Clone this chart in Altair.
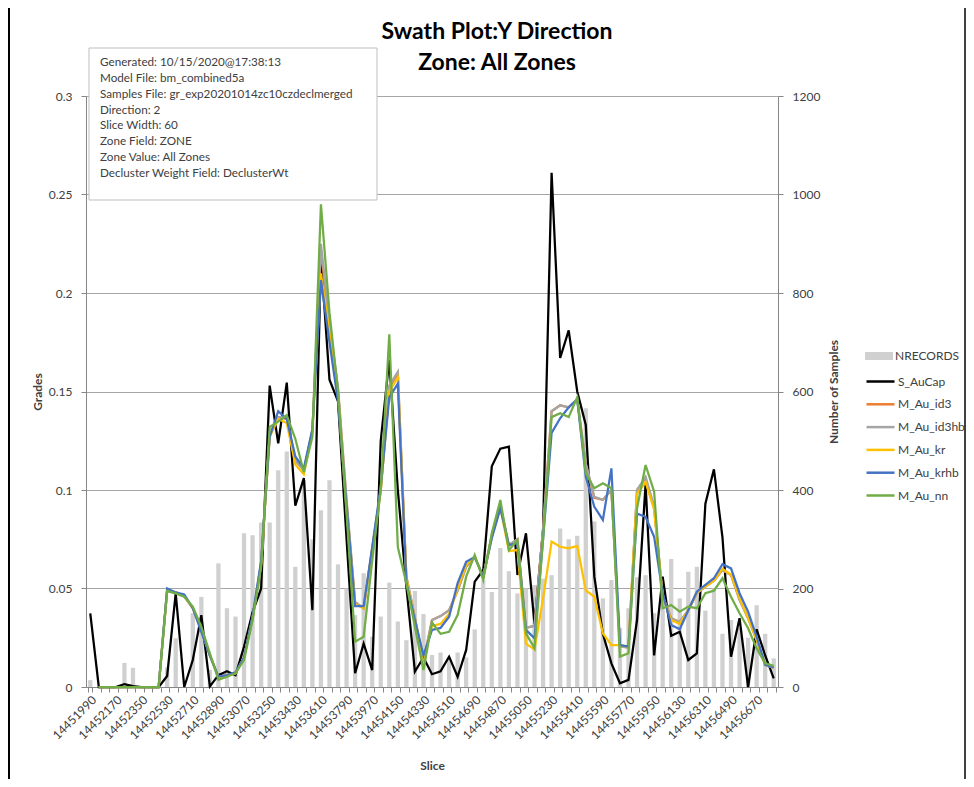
import altair as alt
import pandas as pd

slices = [
    14451990, 14452050, 14452110, 14452170, 14452230, 14452290, 14452350, 14452410, 14452470, 14452530,
    14452590, 14452650, 14452710, 14452770, 14452830, 14452890, 14452950, 14453010, 14453070, 14453130,
    14453190, 14453250, 14453310, 14453370, 14453430, 14453490, 14453550, 14453610, 14453670, 14453730,
    14453790, 14453850, 14453910, 14453970, 14454030, 14454090, 14454150, 14454210, 14454270, 14454330,
    14454390, 14454450, 14454510, 14454570, 14454630, 14454690, 14454750, 14454810, 14454870, 14454930,
    14454990, 14455050, 14455110, 14455170, 14455230, 14455290, 14455350, 14455410, 14455470, 14455530,
    14455590, 14455650, 14455710, 14455770, 14455830, 14455890, 14455950, 14456010, 14456070, 14456130,
    14456190, 14456250, 14456310, 14456370, 14456430, 14456490, 14456550, 14456610, 14456670, 14456730,
    14456790,
]

nrecords = [
    14, 0, 0, 0, 49, 39, 0, 0, 0, 40,
    99, 0, 150, 183, 35, 251, 160, 143, 312, 308,
    334, 334, 440, 478, 244, 420, 300, 359, 420, 249,
    200, 146, 231, 102, 143, 212, 133, 95, 195, 148,
    65, 70, 60, 70, 60, 117, 217, 193, 282, 235,
    190, 200, 207, 220, 227, 322, 300, 307, 566, 336,
    180, 217, 120, 160, 223, 227, 150, 200, 260, 180,
    234, 244, 155, 200, 108, 136, 120, 100, 166, 108,
    58,
]

s_aucap = [
    0.0374, 0, 0, 0, 0.0015, 0.0005, 0, 0, 0, 0.0056,
    0.0475, 0, 0.0137, 0.0365, 0.0003, 0.006, 0.008, 0.006, 0.0205, 0.038,
    0.050, 0.153, 0.1237, 0.1545, 0.092, 0.106, 0.039, 0.218, 0.156, 0.145,
    0.075, 0.007, 0.022, 0.0086, 0.125, 0.166, 0.10, 0.051, 0.0078, 0.015,
    0.0065, 0.008, 0.0154, 0.0052, 0.0188, 0.0535, 0.0594, 0.112, 0.121, 0.122,
    0.0569, 0.078, 0.032, 0.08, 0.261, 0.167, 0.181, 0.15, 0.133, 0.056,
    0.027, 0.012, 0.0019, 0.0036, 0.034, 0.103, 0.016, 0.056, 0.026, 0.028,
    0.0137, 0.017, 0.093, 0.1105, 0.076, 0.0154, 0.0349, 0.0, 0.0293, 0.016,
    0.0044,
]

m_au_id3 = [
    None, 0, 0, 0, 0, 0, 0, 0, 0, 0.049,
    0.048, 0.046, 0.040, 0.029, 0.016, 0.005, 0.006, 0.007, 0.015, 0.035,
    0.063, 0.128, 0.137, 0.136, 0.115, 0.110, 0.130, 0.222, 0.183, 0.151,
    0.094, 0.043, 0.040, 0.070, 0.10, 0.152, 0.159, 0.056, 0.035, 0.013,
    0.034, 0.036, 0.039, 0.049, 0.061, 0.066, 0.056, 0.077, 0.092, 0.072,
    0.075, 0.030, 0.031, 0.08, 0.140, 0.143, 0.142, 0.146, 0.113, 0.096,
    0.095, 0.10, 0.0205, 0.020, 0.1, 0.106, 0.091, 0.046, 0.0349, 0.033,
    0.039, 0.0476, 0.051, 0.054, 0.0594, 0.0569, 0.0442, 0.0349, 0.0239, 0.0112,
    0.010,
]

m_au_id3hb = [
    None, 0, 0, 0, 0, 0, 0, 0, 0, 0.049,
    0.048, 0.046, 0.040, 0.029, 0.016, 0.005, 0.006, 0.007, 0.015, 0.035,
    0.063, 0.128, 0.137, 0.137, 0.115, 0.110, 0.130, 0.225, 0.185, 0.152,
    0.095, 0.043, 0.040, 0.070, 0.10, 0.153, 0.160, 0.056, 0.035, 0.013,
    0.034, 0.036, 0.039, 0.049, 0.061, 0.066, 0.056, 0.077, 0.092, 0.072,
    0.075, 0.030, 0.031, 0.08, 0.140, 0.143, 0.142, 0.146, 0.1135, 0.0966,
    0.095, 0.10, 0.0205, 0.020, 0.1, 0.1068, 0.0915, 0.046, 0.0349, 0.033,
    0.039, 0.0476, 0.051, 0.054, 0.0594, 0.0569, 0.0442, 0.0349, 0.0239, 0.0112,
    0.010,
]

m_au_kr = [
    None, 0, 0, 0, 0, 0, 0, 0, 0, 0.049,
    0.048, 0.046, 0.040, 0.029, 0.016, 0.005, 0.006, 0.007, 0.015, 0.035,
    0.062, 0.127, 0.136, 0.134, 0.113, 0.108, 0.130, 0.21, 0.18, 0.148,
    0.09, 0.042, 0.04, 0.07, 0.10, 0.15, 0.157, 0.055, 0.034, 0.014,
    0.031, 0.032, 0.037, 0.05, 0.062, 0.066, 0.056, 0.076, 0.091, 0.069,
    0.0695, 0.022, 0.019, 0.045, 0.0738, 0.0712, 0.0704, 0.0716, 0.049, 0.0458,
    0.0273, 0.0213, 0.0213, 0.0205, 0.098, 0.104, 0.09, 0.046, 0.034, 0.032,
    0.039, 0.048, 0.051, 0.054, 0.06, 0.057, 0.045, 0.035, 0.024, 0.0112,
    0.010,
]

m_au_krhb = [
    None, 0, 0, 0, 0, 0, 0, 0, 0, 0.050,
    0.048, 0.047, 0.040, 0.028, 0.016, 0.0053, 0.006, 0.0075, 0.015, 0.036,
    0.064, 0.127, 0.140, 0.136, 0.117, 0.111, 0.131, 0.2066, 0.175, 0.145,
    0.092, 0.041, 0.041, 0.071, 0.1017, 0.147, 0.154, 0.053, 0.034, 0.016,
    0.029, 0.030, 0.0357, 0.0528, 0.0636, 0.066, 0.056, 0.0755, 0.0907, 0.072,
    0.073, 0.029, 0.0247, 0.075, 0.129, 0.1364, 0.142, 0.146, 0.1068, 0.0915,
    0.0848, 0.111, 0.0213, 0.0205, 0.088, 0.0864, 0.0763, 0.0476, 0.0315, 0.0293,
    0.039, 0.0484, 0.0518, 0.0552, 0.0623, 0.0602, 0.0476, 0.0382, 0.0255, 0.0112,
    0.010,
]

m_au_nn = [
    None, 0, 0, 0, 0, 0, 0, 0, 0, 0.0487,
    0.0475, 0.0458, 0.0408, 0.0306, 0.0171, 0.0036, 0.0052, 0.007, 0.0137, 0.034,
    0.061, 0.132, 0.1347, 0.138, 0.126, 0.109, 0.127, 0.245, 0.19, 0.15,
    0.088, 0.023, 0.0255, 0.064, 0.10, 0.179, 0.071, 0.0526, 0.0306, 0.0086,
    0.0327, 0.027, 0.028, 0.0365, 0.056, 0.067, 0.0543, 0.078, 0.0949, 0.0695,
    0.0746, 0.0272, 0.0196, 0.075, 0.137, 0.139, 0.137, 0.147, 0.1085, 0.1009,
    0.1034, 0.1009, 0.0154, 0.0171, 0.0907, 0.1127, 0.0991, 0.040, 0.0416, 0.0382,
    0.0408, 0.040, 0.0476, 0.0489, 0.0552, 0.0458, 0.0374, 0.0298, 0.0196, 0.012,
    0.0107,
]

series_names = ["S_AuCap", "M_Au_id3", "M_Au_id3hb", "M_Au_kr", "M_Au_krhb", "M_Au_nn"]
series_values = [s_aucap, m_au_id3, m_au_id3hb, m_au_kr, m_au_krhb, m_au_nn]
series_colors = ["#000000", "#ED7D31", "#A5A5A5", "#FFC000", "#4472C4", "#70AD47"]
bar_color = "#D0D0D0"

grade_ticks = [0, 0.05, 0.1, 0.15, 0.2, 0.25, 0.3]
sample_ticks = [0, 200, 400, 600, 800, 1000, 1200]

title_lines = ["Swath Plot:Y Direction", "Zone: All Zones"]
info_lines = [
    "Generated: 10/15/2020@17:38:13",
    "Model File: bm_combined5a",
    "Samples File: gr_exp20201014zc10czdeclmerged",
    "Direction: 2",
    "Slice Width: 60",
    "Zone Field: ZONE",
    "Zone Value: All Zones",
    "Decluster Weight Field: DeclusterWt",
]

FONT = "Lato"
AXIS_GREY = "#868686"
LABEL = "#404040"
W, H = 692, 591

bars_df = pd.DataFrame({"slice": slices, "count": nrecords, "name": "NRECORDS"})
rows = []
for name, vals in zip(series_names, series_values):
    for s, v in zip(slices, vals):
        if v is not None:
            rows.append({"slice": s, "grade": v, "series": name})
lines_df = pd.DataFrame(rows)

x_enc = alt.X(
    "slice:O",
    scale=alt.Scale(paddingInner=0.5, paddingOuter=0.25),
    axis=alt.Axis(
        title="Slice",
        labelAngle=315,
        labelExpr="(datum.value - 14451990) % 180 === 0 ? datum.label : ''",
        labelOverlap=False,
        tickBand="extent",
        tickSize=5,
        tickColor=AXIS_GREY,
        domainColor=AXIS_GREY,
        labelFontSize=12,
        labelColor=LABEL,
        labelPadding=2,
        titleFontSize=12,
        titleFontWeight="bold",
        titleColor=LABEL,
        titleX=346,
        titleY=78,
        titleBaseline="middle",
        grid=False,
    ),
)

bars = alt.Chart(bars_df).mark_bar().encode(
    x=x_enc,
    y=alt.Y(
        "count:Q",
        scale=alt.Scale(domain=[0, 1200], nice=False, zero=True),
        axis=alt.Axis(
            orient="right",
            values=sample_ticks,
            format="d",
            grid=False,
            title="Number of Samples",
            tickSize=5,
            tickColor=AXIS_GREY,
            domainColor=AXIS_GREY,
            labelPadding=9,
            labelFontSize=12,
            labelColor=LABEL,
            titleFontSize=12,
            titleFontWeight="bold",
            titleColor=LABEL,
            titleAngle=270,
            titleX=55,
            titleY=295.5,
            titleAlign="center",
            titleBaseline="middle",
        ),
    ),
    color=alt.Color(
        "name:N",
        scale=alt.Scale(domain=["NRECORDS"], range=[bar_color]),
        legend=alt.Legend(
            title=None,
            orient="none",
            legendX=786,
            legendY=253,
            padding=0,
            symbolType="M-2,-0.57L2,-0.57L2,0.57L-2,0.57Z",
            symbolSize=196,
            symbolStrokeWidth=0,
            labelOffset=9,
            labelFontSize=12,
            labelColor=LABEL,
            labelFont=FONT,
        ),
    ),
)

y_left = alt.Y(
    "grade:Q",
    scale=alt.Scale(domain=[0, 0.3], nice=False, zero=True),
    axis=alt.Axis(
        orient="left",
        values=grade_ticks,
        format=".2~f",
        grid=True,
        gridColor="#A6A6A6",
        gridWidth=1,
        title="Grades",
        tickSize=5,
        tickColor=AXIS_GREY,
        domainColor=AXIS_GREY,
        labelPadding=9,
        labelFontSize=12,
        labelColor=LABEL,
        titleFontSize=12,
        titleFontWeight="bold",
        titleColor=LABEL,
        titleAngle=270,
        titleX=-49,
        titleY=295.5,
        titleAlign="center",
        titleBaseline="middle",
    ),
)

color_lines = alt.Color(
    "series:N",
    scale=alt.Scale(domain=series_names, range=series_colors),
    legend=alt.Legend(
        title=None,
        orient="none",
        legendX=786,
        legendY=277,
        padding=0,
        symbolType="M-2,0L2,0",
        symbolSize=196,
        symbolStrokeWidth=2.5,
        rowPadding=7.8,
        labelOffset=9,
        labelFontSize=12,
        labelColor=LABEL,
        labelFont=FONT,
    ),
)

line_layers = []
for name in series_names:
    line_layers.append(
        alt.Chart(lines_df)
        .transform_filter(alt.datum.series == name)
        .mark_line(strokeWidth=2.25)
        .encode(x=x_enc, y=y_left, color=color_lines)
    )
lines = alt.layer(*line_layers)

one = pd.DataFrame({"t": ["\n".join(title_lines)]})
title = alt.Chart(one).mark_text(
    lineBreak="\n", lineHeight=31, fontSize=23, fontWeight="bold", font=FONT,
    align="center", baseline="middle", color="#000000",
).encode(x=alt.value(411), y=alt.value(-64), text="t:N")

info_df = pd.DataFrame({"t": ["\n".join(info_lines)]})
box = alt.Chart(info_df).mark_rect(fill="white", stroke="#BFBFBF", strokeWidth=1).encode(
    x=alt.value(3), x2=alt.value(291), y=alt.value(-48), y2=alt.value(104)
)
info = alt.Chart(info_df).mark_text(
    lineBreak="\n", lineHeight=15.85, fontSize=11.7, font=FONT,
    align="left", baseline="top", color=LABEL,
).encode(x=alt.value(14), y=alt.value(-39), text="t:N")

frame_l = alt.Chart(one).mark_rule(color="#000000", strokeWidth=2).encode(
    x=alt.value(-77), y=alt.value(-96), y2=alt.value(683)
)
frame_r = alt.Chart(one).mark_rule(color="#000000", strokeWidth=1.5).encode(
    x=alt.value(879), y=alt.value(-96), y2=alt.value(683)
)

chart = (
    alt.layer(bars, lines, box, info, title, frame_l, frame_r)
    .resolve_scale(y="independent", color="independent")
    .properties(
        width=W,
        height=H,
        autosize=alt.AutoSizeParams(type="none"),
        padding={"left": 78, "top": 88, "right": 188, "bottom": 92},
    )
    .configure(font=FONT)
    .configure_view(stroke=None)
    .configure_axis(labelFont=FONT, titleFont=FONT)
)

chart.save("out.html", embed_options={"renderer": "svg", "actions": False})
